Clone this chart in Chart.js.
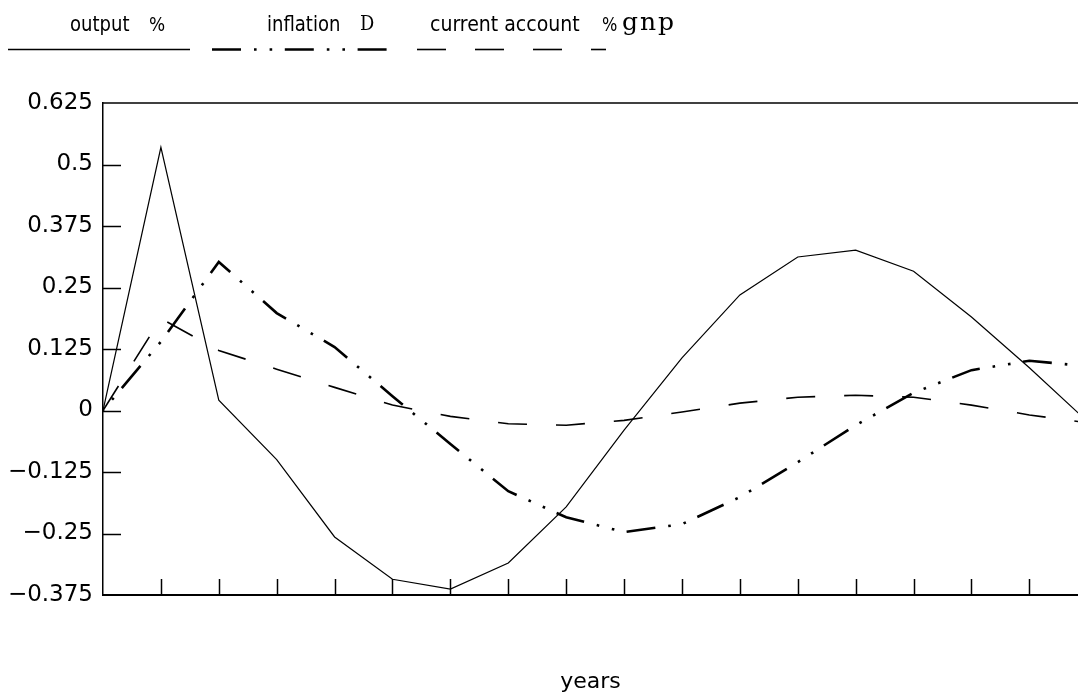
<!DOCTYPE html>
<html>
<head>
<meta charset="utf-8">
<script src="https://cdn.jsdelivr.net/npm/chart.js@4"></script>
<style>
  html, body { margin: 0; padding: 0; background: #fff; overflow: hidden; }
  #wrap { width: 1078px; height: 700px; }
</style>
</head>
<body>
<div id="wrap"><canvas id="c" width="1078" height="700"></canvas></div>
<script>
// Years after the shock and the response of each variable
const years = [0, 1, 2, 3, 4, 5, 6, 7, 8, 9, 10, 11, 12, 13, 14, 15, 16, 17];
const output = [0, 0.535, 0.021, -0.10, -0.257, -0.343, -0.363, -0.310, -0.196, -0.04,
                0.107, 0.235, 0.312, 0.326, 0.283, 0.19, 0.087, -0.022];
const inflation = [0, 0.14, 0.302, 0.198, 0.129, 0.029, -0.068, -0.164, -0.217, -0.247,
                   -0.231, -0.176, -0.105, -0.03, 0.036, 0.082, 0.101, 0.09];
const currentAccount = [0, 0.187, 0.122, 0.084, 0.047, 0.011, -0.012, -0.027, -0.030, -0.02,
                        -0.003, 0.015, 0.027, 0.031, 0.027, 0.011, -0.009, -0.025];

// Axis ticks
const yTicks = [-0.375, -0.25, -0.125, 0, 0.125, 0.25, 0.375, 0.5, 0.625];
const yTickLabels = ['\u22120.375', '\u22120.25', '\u22120.125', '0', '0.125', '0.25', '0.375', '0.5', '0.625'];
const xTicks = [1, 2, 3, 4, 5, 6, 7, 8, 9, 10, 11, 12, 13, 14, 15, 16];

// Legend texts
const seriesNames = ['output', 'inflation', 'current account'];
const seriesUnits = ['%', 'D', '%gnp'];

const INK = '#000';
const SANS = '"DejaVu Sans", sans-serif';
const SERIF = '"DejaVu Serif", serif';

const toPoints = vals => years.map((yr, i) => ({ x: yr, y: vals[i] }));

const dashDotDot = [29, 13, 2.6, 13, 2.6, 12.6];
const longDash = [29, 29];

const datasets = [
  { label: seriesNames[0], data: toPoints(output), borderColor: INK, borderWidth: 1.2,
    borderDash: [], pointRadius: 0, tension: 0, fill: false },
  { label: seriesNames[1], data: toPoints(inflation), borderColor: INK, borderWidth: 2.6,
    borderDash: dashDotDot, borderDashOffset: 43.6, borderCapStyle: 'butt',
    pointRadius: 0, tension: 0, fill: false },
  { label: seriesNames[2], data: toPoints(currentAccount), borderColor: INK, borderWidth: 1.6,
    borderDash: longDash, pointRadius: 0, tension: 0, fill: false }
];

// Narrow, tall lettering for the legend: draw with a horizontal squeeze
function narrowText(ctx, text, x, y, font, squeeze) {
  ctx.save();
  ctx.font = font;
  ctx.translate(x, y);
  ctx.scale(squeeze, 1);
  ctx.fillText(text, 0, 0);
  ctx.restore();
}

// Frame, inward tick marks and the line-sample legend above the plot
const framePlugin = {
  id: 'frame',
  afterDraw(chart) {
    const { ctx, chartArea: a, scales } = chart;
    ctx.save();
    ctx.strokeStyle = INK;
    ctx.lineCap = 'butt';

    // top edge of the plot box
    ctx.lineWidth = 1.3;
    ctx.beginPath();
    ctx.moveTo(a.left, a.top);
    ctx.lineTo(a.right, a.top);
    ctx.stroke();

    // y tick marks pointing into the plot
    ctx.lineWidth = 1.5;
    yTicks.forEach(v => {
      if (v === yTicks[0] || v === yTicks[yTicks.length - 1]) return;
      const py = Math.round(scales.y.getPixelForValue(v)) + 0.5;
      ctx.beginPath();
      ctx.moveTo(a.left, py);
      ctx.lineTo(a.left + 18, py);
      ctx.stroke();
    });

    // x tick marks rising from the bottom axis
    xTicks.forEach(v => {
      const px = Math.round(scales.x.getPixelForValue(v)) + 0.5;
      ctx.beginPath();
      ctx.moveTo(px, a.bottom);
      ctx.lineTo(px, a.bottom - 16);
      ctx.stroke();
    });

    // legend: line samples
    const ly = 49.5;
    const samples = [[8, 190], [212, 396], [417, 606]];
    chart.data.datasets.forEach((ds, i) => {
      ctx.save();
      ctx.lineWidth = Math.max(ds.borderWidth, 1.5);
      ctx.setLineDash(ds.borderDash || []);
      ctx.lineDashOffset = 0;
      ctx.beginPath();
      ctx.moveTo(samples[i][0], ly);
      ctx.lineTo(samples[i][1], ly);
      ctx.stroke();
      ctx.restore();
    });

    // legend: texts
    ctx.fillStyle = INK;
    ctx.textBaseline = 'alphabetic';
    ctx.textAlign = 'left';
    const by = 31;
    const legendFont = '22px ' + SANS;
    narrowText(ctx, seriesNames[0], 70, by, legendFont, 0.82);
    narrowText(ctx, seriesUnits[0], 149, by, '20px ' + SANS, 0.85);
    narrowText(ctx, seriesNames[1], 267, by, legendFont, 0.82);
    narrowText(ctx, seriesNames[2], 430, by, legendFont, 0.86);
    narrowText(ctx, seriesUnits[1], 360, by - 1, '21px ' + SERIF, 0.85);
    const pct = seriesUnits[2].slice(0, 1);
    const rest = seriesUnits[2].slice(1);
    narrowText(ctx, pct, 602, by, '19px ' + SANS, 0.85);
    ctx.letterSpacing = '2px';
    narrowText(ctx, rest, 622, by - 1, '25px ' + SERIF, 1);
    ctx.restore();
  }
};

new Chart(document.getElementById('c'), {
  type: 'line',
  data: { datasets },
  options: {
    responsive: false,
    animation: false,
    devicePixelRatio: 1,
    layout: { padding: { top: 103, right: 0, bottom: 0, left: 0 } },
    plugins: { legend: { display: false }, tooltip: { enabled: false } },
    scales: {
      x: {
        type: 'linear',
        min: 0,
        max: 16.84,
        grid: { drawOnChartArea: false, drawTicks: false },
        border: { display: true, color: INK, width: 2 },
        ticks: { display: false, stepSize: 1 },
        title: { display: true, text: 'years', color: INK,
                 font: { family: SANS, size: 22 }, padding: { top: 0, bottom: 5 } },
        afterFit(scale) { scale.height = 105; }
      },
      y: {
        type: 'linear',
        min: -0.375,
        max: 0.625,
        grid: { drawOnChartArea: false, drawTicks: false },
        border: { display: true, color: INK, width: 1.5 },
        afterBuildTicks(scale) { scale.ticks = yTicks.map(v => ({ value: v })); },
        ticks: {
          color: INK,
          font: { family: SANS, size: 23 },
          padding: 10,
          callback: (v, i) => yTickLabels[i]
        },
        afterFit(scale) { scale.width = 103; }
      }
    }
  },
  plugins: [framePlugin]
});
</script>
</body>
</html>
